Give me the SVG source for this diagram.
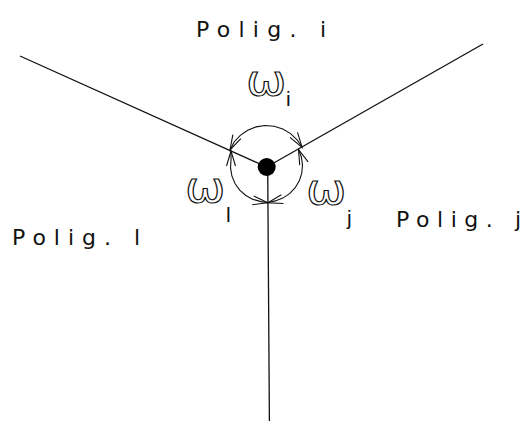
<svg xmlns="http://www.w3.org/2000/svg" width="529" height="426" viewBox="0 0 529 426">
<style>
.edge{fill:none;stroke:#111;stroke-width:1.3}
.arc{fill:none;stroke:#111;stroke-width:1.1;marker-start:url(#ah);marker-end:url(#ah)}
.lbl{font-family:"DejaVu Sans","Liberation Sans",sans-serif;font-size:22px;fill:#111}
.sub{font-family:"Liberation Sans",Arial,sans-serif;font-size:21px;fill:#111}
.om{font-family:"DejaVu Sans",sans-serif;font-size:42px;fill:none;stroke:#111;stroke-width:1.1}
</style>
<defs>
<marker id="ah" markerUnits="userSpaceOnUse" markerWidth="20" markerHeight="12" viewBox="-16 -6 20 12" refX="0" refY="0" orient="auto-start-reverse" overflow="visible">
<path d="M -15 -4.5 L 0 0 L -15 4.5" fill="none" stroke="#111" stroke-width="1.1"/>
</marker>
</defs>
<rect width="529" height="426" fill="#fff"/>
<g id="connectors">
<line class="edge" x1="20" y1="56" x2="266.7" y2="167"/>
<line class="edge" x1="483" y1="44" x2="266.7" y2="167"/>
<line class="edge" x1="267.7" y1="167" x2="269.4" y2="421"/>
<polyline id="arc-i" class="arc" points="230,150 234.1,142 240.3,135.3 247.7,130.2 256.1,126.9 265.1,125.5 274.1,126.2 282.8,129 290.6,133.6 297.1,139.8 302.1,147.3"/>
<polyline id="arc-l" class="arc" points="231,151 231,159.7 230.55,167.9 231.9,175.9 235,183.5 239.7,190.1 245.9,195.5 253,199.4 260.9,201.6 267.8,202.7"/>
<polyline id="arc-j" class="arc" points="298.5,149.5 301.3,156.7 302.5,164.7 301.8,172.9 299.4,180.6 295.2,187.7 289.6,193.6 282.8,198.1 275.2,200.9 267.8,202.7"/>
</g>
<g id="vertex">
<circle cx="266.7" cy="167" r="9" fill="#000"/>
</g>
<g id="polig-i">
<text class="lbl" x="196" y="37" textLength="130" lengthAdjust="spacing">Polig. i</text>
</g>
<g id="polig-l">
<text class="lbl" x="12" y="245" textLength="128" lengthAdjust="spacing">Polig. l</text>
</g>
<g id="polig-j">
<text class="lbl" x="396" y="227" textLength="125" lengthAdjust="spacing">Polig. j</text>
</g>
<g id="omega-i">
<text class="om" transform="translate(246 95) scale(1.15 1)">ω</text>
<text class="sub" x="286" y="106">i</text>
</g>
<g id="omega-l">
<text class="om" transform="translate(185 202) scale(1.15 1)">ω</text>
<text class="sub" x="226" y="222">l</text>
</g>
<g id="omega-j">
<text class="om" transform="translate(306 204) scale(1.15 1)">ω</text>
<text class="sub" x="347" y="225">j</text>
</g>
</svg>
